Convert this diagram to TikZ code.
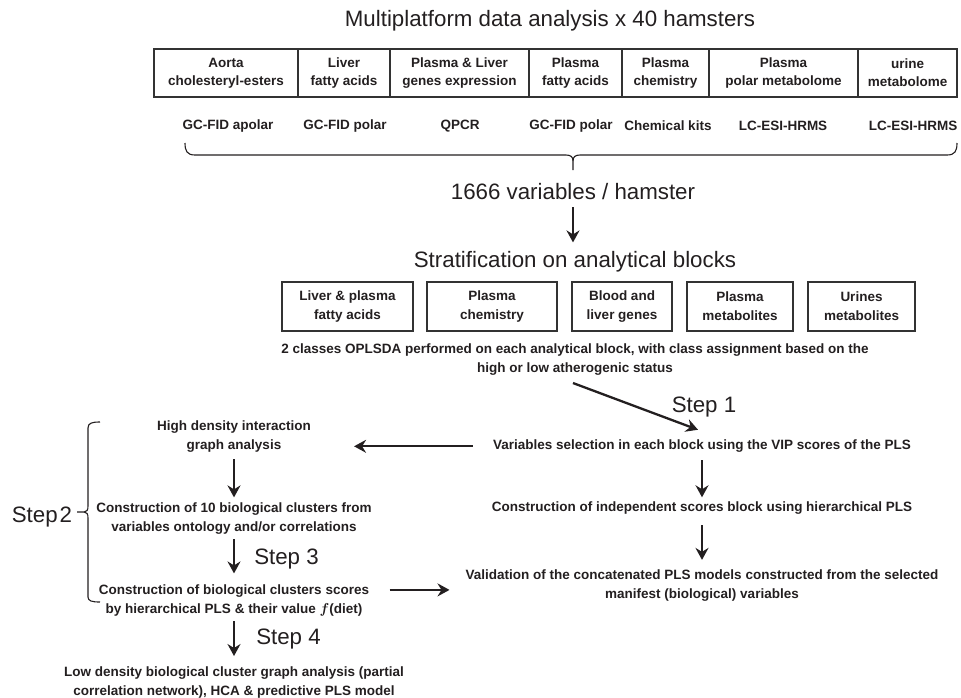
\documentclass[tikz,border=0pt]{standalone}
\usepackage{fontspec}
\setmainfont{Liberation Sans}
\usetikzlibrary{arrows.meta}
\definecolor{ink}{HTML}{231F20}
\definecolor{edge}{HTML}{333333}
\begin{document}
\begin{tikzpicture}[x=1pt,y=-1pt,
  big/.style={font=\fontsize{22.3}{26}\selectfont, text=ink, inner sep=0pt},
  bt/.style={font=\fontsize{13.5}{19}\selectfont\bfseries, text=ink, align=center, inner sep=0pt},
  topbox/.style={draw=edge, line width=1.1pt, minimum height=48pt, inner sep=0pt, align=center, font=\fontsize{13.5}{18}\selectfont\bfseries, text=ink},
  blockbox/.style={draw=edge, line width=1.1pt, minimum height=49pt, inner sep=0pt, align=center, font=\fontsize{13.5}{19}\selectfont\bfseries, text=ink},
  arr/.style={draw=ink, line width=2.3pt, -{Stealth[length=12pt,width=13pt,inset=4pt]}},
  brace/.style={draw=ink, line width=1.1pt}]
\useasboundingbox (0,0) rectangle (961,697);

% title
\node[big] (title) at (550,21) {Multiplatform data analysis x 40 hamsters};

% top row of boxes
\node[topbox, minimum width=144pt] (b1) at (226,73) {Aorta\\cholesteryl-esters};
\node[topbox, minimum width=92pt]  (b2) at (344,73) {Liver\\fatty acids};
\node[topbox, minimum width=139pt] (b3) at (459.5,73) {Plasma \& Liver\\genes expression};
\node[topbox, minimum width=93pt]  (b4) at (575.5,73) {Plasma\\fatty acids};
\node[topbox, minimum width=87pt]  (b5) at (665.5,73) {Plasma\\chemistry};
\node[topbox, minimum width=149pt] (b6) at (783.5,73) {Plasma\\polar metabolome};
\node[topbox, minimum width=99pt]  (b7) at (907.5,73) {urine\\metabolome};

% platforms
\node[bt] (m1) at (228,126) {GC-FID apolar};
\node[bt] (m2) at (345,126) {GC-FID polar};
\node[bt] (m3) at (460,126) {QPCR};
\node[bt] (m4) at (571,126) {GC-FID polar};
\node[bt] (m5) at (668,126) {Chemical kits};
\node[bt] (m6) at (783,126) {LC-ESI-HRMS};
\node[bt] (m7) at (913,126) {LC-ESI-HRMS};

% top brace
\draw[brace] (185,143) .. controls (185,151) and (187,155) .. (195,155) -- (566,155)
  .. controls (571,155) and (573,157) .. (573,161) -- (573,170);
\draw[brace] (573,161) .. controls (573,157) and (575,155) .. (580,155) -- (947,155)
  .. controls (955,155) and (957,151) .. (957,143);

\node[big] (n1666) at (573,192) {1666 variables / hamster};
\node[big] (strat) at (575,262) {Stratification on analytical blocks};
\draw[arr, shorten <=7pt, shorten >=9pt] (n1666.south) -- (n1666.south |- strat.north);

% analytical blocks
\node[blockbox, minimum width=131pt] (s1) at (347.5,306.5) {Liver \& plasma\\fatty acids};
\node[blockbox, minimum width=130pt] (s2) at (492,306.5) {Plasma\\chemistry};
\node[blockbox, minimum width=100pt] (s3) at (622,306.5) {Blood and\\liver genes};
\node[blockbox, minimum width=106pt] (s4) at (740,306.5) {Plasma\\metabolites};
\node[blockbox, minimum width=107pt] (s5) at (861.5,306.5) {Urines\\metabolites};

\node[bt] (oplsda) at (575,360) {2 classes OPLSDA performed on each analytical block, with class assignment based on the\\high or low atherogenic status};

% right column
\node[bt] (varsel) at (702,446.3) {Variables selection in each block using the VIP scores of the PLS};
\node[big] (step1) at (704,407) {Step 1};
\draw[arr] ([xshift=-2pt,yshift=-7pt]oplsda.south) -- ([xshift=-4pt,yshift=10pt]varsel.north);

\node[bt] (cind) at (702,508.3) {Construction of independent scores block using hierarchical PLS};
\node[bt] (valid) at (702,585.9) {Validation of the concatenated PLS models constructed from the selected\\manifest (biological) variables};
\draw[arr, shorten <=7.5pt, shorten >=4.5pt] (varsel.south) -- (cind.north);
\draw[arr, shorten <=10.5pt, shorten >=10pt] (cind.south) -- (valid.north);

% left column
\node[bt] (highd) at (234,436.4) {High density interaction\\graph analysis};
\node[bt] (c10) at (234,518.4) {Construction of 10 biological clusters from\\variables ontology and/or correlations};
\node[bt] (cbio) at (234,600.4) {Construction of biological clusters scores\\by hierarchical PLS \& their value {\boldmath$f$}(diet)};
\node[bt] (lowd) at (234,682) {Low density biological cluster graph analysis (partial\\correlation network), HCA \& predictive PLS model};

\draw[arr, shorten <=20pt, shorten >=43pt] (varsel.west) -- (varsel.west -| highd.east);
\draw[arr, shorten <=7pt, shorten >=5pt] (highd.south) -- (c10.north);
\draw[arr, shorten <=5pt, shorten >=11pt] (c10.south) -- (cbio.north);
\draw[arr, shorten <=5pt, shorten >=10pt] (cbio.south) -- (lowd.north);

\node[big] (step3) at (286.5,559) {Step 3};
\node[big] (step4) at (288.5,639) {Step 4};

\coordinate (vin) at ([yshift=-4pt]valid.west);
\draw[arr, shorten <=20.5pt, shorten >=16pt] (cbio.east |- vin) -- (vin);

% step 2 brace
\node[big] (step2) at (42,517) {Step\hspace{2pt}2};
\draw[brace] (100,422) .. controls (92,422) and (88,423) .. (88,428) -- (88,506)
  .. controls (88,510) and (87,512) .. (84,512) -- (77,512);
\draw[brace] (84,512) .. controls (87,512) and (88,514) .. (88,518) -- (88,597)
  .. controls (88,601) and (92,602) .. (100,602);
\end{tikzpicture}
\end{document}
